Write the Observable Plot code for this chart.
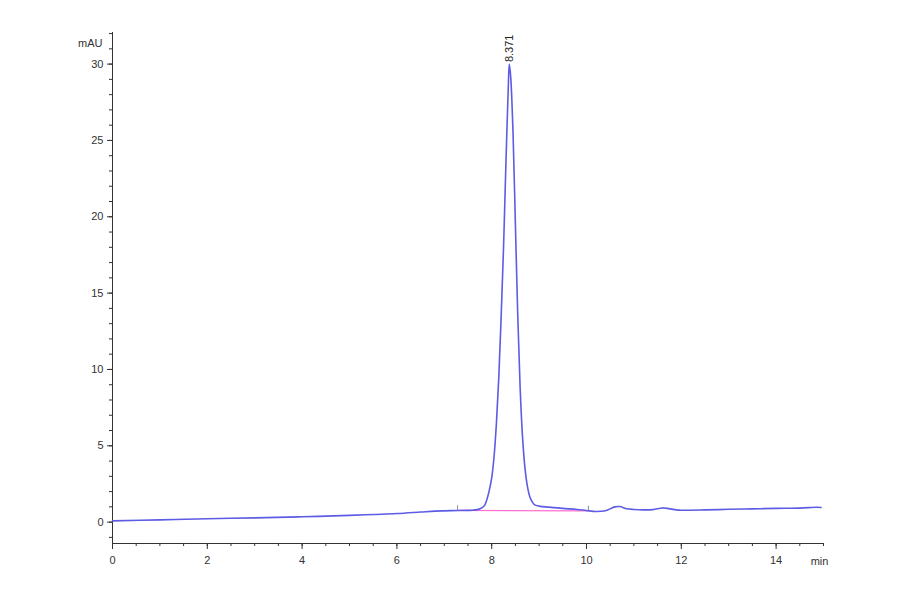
<!DOCTYPE html>
<html>
<head>
<meta charset="utf-8">
<script src="https://cdn.jsdelivr.net/npm/d3@7"></script>
<script src="https://cdn.jsdelivr.net/npm/@observablehq/plot@0.6"></script>
<style>
  html, body { margin: 0; padding: 0; background: #fff; }
  svg { display: block; }
</style>
</head>
<body>
<div id="chart"></div>
<script>
// Retention time (min) and absorbance (mAU)
const times = [0, 1, 2, 3, 4, 5, 5.5, 6, 6.5, 6.8, 7.0, 7.3, 7.5, 7.6, 7.7, 7.8, 7.85, 7.9, 7.95,
  8.0, 8.05, 8.1, 8.15, 8.2, 8.25, 8.3, 8.35, 8.371, 8.4, 8.45, 8.5, 8.55, 8.6, 8.65, 8.7, 8.75,
  8.8, 8.85, 8.9, 9.0, 9.2, 9.5, 9.8, 10.0, 10.2, 10.4, 10.6, 10.7, 10.85, 11.0, 11.2, 11.4, 11.6,
  11.7, 11.9, 12.0, 12.5, 13.0, 13.5, 14.0, 14.5, 14.85, 14.95];
const signal = [0.08, 0.15, 0.22, 0.28, 0.35, 0.44, 0.5, 0.56, 0.66, 0.72, 0.74, 0.76, 0.77, 0.78, 0.82, 0.95, 1.1, 1.5, 2.1,
  2.9, 4.3, 6.5, 9.5, 13.5, 18.0, 23.5, 28.5, 30.0, 29.2, 25.5, 19.5, 13.5, 8.8, 5.6, 3.6, 2.4,
  1.7, 1.35, 1.15, 1.05, 0.98, 0.9, 0.83, 0.76, 0.7, 0.75, 1.0, 1.02, 0.88, 0.83, 0.8, 0.82, 0.93,
  0.9, 0.8, 0.78, 0.8, 0.84, 0.87, 0.9, 0.92, 0.97, 0.96];

// Integration baseline of the peak
const baseTimes = [7.28, 10.04];
const baseValues = [0.77, 0.74];

// Peak annotation
const peakTime = [8.371];
const peakHeight = [30.0];
const peakLabel = ["8.371"];

// Axis ticks
const xTicks = [0, 2, 4, 6, 8, 10, 12, 14];
const xMinor = d3.range(0, 15.01, 0.5);
const yTicks = [0, 5, 10, 15, 20, 25, 30];
const yMinor = d3.range(-1, 32.5, 1);
const xDomain = [0, 15];
const yDomain = [-1.4, 32.07];

const trace = times.map((t, i) => ({t, v: signal[i]}));
const base = baseTimes.map((t, i) => ({t, v: baseValues[i]}));
const peaks = peakTime.map((t, i) => ({t, v: peakHeight[i], label: peakLabel[i]}));

const axisColor = "#333";
const font = "Liberation Sans, Arial, sans-serif";

const chart = Plot.plot({
  width: 900,
  height: 594,
  marginLeft: 112,
  marginRight: 77,
  marginTop: 32,
  marginBottom: 51,
  style: {fontFamily: font, fontSize: "11px", color: axisColor, background: "#fff"},
  x: {type: "linear", domain: xDomain},
  y: {type: "linear", domain: yDomain},
  marks: [
    // axis lines
    Plot.ruleX([xDomain[0]], {y1: () => yDomain[0], y2: () => yDomain[1], stroke: axisColor, strokeWidth: 1}),
    Plot.ruleY([yDomain[0]], {x1: () => xDomain[0], x2: () => xDomain[1], stroke: axisColor, strokeWidth: 1}),
    // minor ticks
    Plot.axisX({ticks: xMinor, tickSize: 3, tickFormat: () => "", label: null, stroke: axisColor}),
    Plot.axisY({ticks: yMinor, tickSize: 3, tickFormat: () => "", label: null, stroke: axisColor}),
    // major ticks + labels
    Plot.axisX({ticks: xTicks, tickSize: 6, tickPadding: 7, tickFormat: d => String(d), label: null, stroke: axisColor, fill: axisColor}),
    Plot.axisY({ticks: yTicks, tickSize: 5, tickPadding: 4, tickFormat: d => String(d), label: null, stroke: axisColor, fill: axisColor}),
    // unit labels
    Plot.text(["mAU"], {frameAnchor: "top-left", dx: -10, dy: 7, textAnchor: "end", fill: axisColor}),
    Plot.text(["min"], {frameAnchor: "bottom-right", dx: -4, dy: 21, textAnchor: "middle", fill: axisColor}),
    // baseline
    Plot.line(base, {x: "t", y: "v", stroke: "#ff70d0", strokeWidth: 1.2}),
    Plot.ruleX(base, {x: "t", y1: "v", y2: d => d.v + 0.3, stroke: "#888", strokeWidth: 1}),
    // signal
    Plot.line(trace, {x: "t", y: "v", stroke: "#5c5ce4", strokeWidth: 1.6, curve: "catmull-rom"}),
    // peak label
    Plot.text(peaks, {x: "t", y: "v", text: "label", rotate: -90, textAnchor: "start", dy: -2, dx: 0, fill: "#222", fontSize: 11})
  ]
});
document.getElementById("chart").appendChild(chart);
</script>
</body>
</html>
